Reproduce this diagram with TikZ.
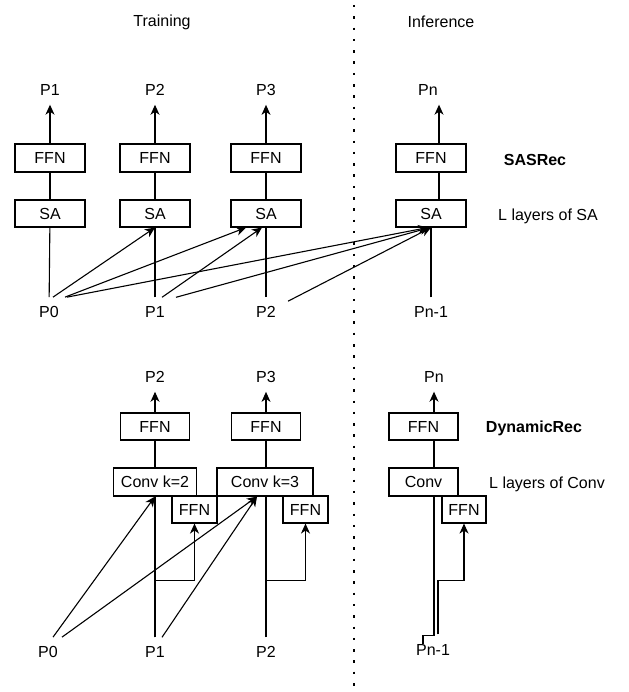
\documentclass[tikz,border=0pt]{standalone}
\usepackage{fontspec}
\setmainfont{Liberation Sans}
\usepackage{tikz}
\usetikzlibrary{arrows.meta}
\tikzset{
  rec-block/.style={draw=black, fill=white, line width=1.1pt, inner sep=0pt,
    minimum width=70pt, minimum height=28pt, font=\fontsize{16pt}{19pt}\selectfont},
  rec-small/.style={rec-block, minimum width=45pt, minimum height=27pt},
  rec-label/.style={inner xsep=1pt, inner ysep=9pt, font=\fontsize{16pt}{19pt}\selectfont},
  rec-note/.style={inner sep=0pt, font=\fontsize{16pt}{19pt}\selectfont},
  rec-arrow/.style={-{Stealth[length=10pt,width=9pt,inset=3pt]}, line width=1.1pt},
  rec-line/.style={line width=1.1pt}
}

\begin{document}
\begin{tikzpicture}[x=1pt, y=-1pt]
  \useasboundingbox (0,0) rectangle (628,692);

  % Headings and split
  \node[rec-note] (train) at (162,22) {Training};
  \node[rec-note] (infer) at (441,22) {Inference};
  \draw[line width=2.5pt, dash pattern=on 2.5pt off 8.8pt] (354,5) -- (354,692);

  % SASRec (top)
  \node[rec-label] (out1) at (50,90) {P1};
  \node[rec-label] (out2) at (155,90) {P2};
  \node[rec-label] (out3) at (266,90) {P3};
  \node[rec-label] (outN) at (428,90) {Pn};

  \node[rec-block] (ffn1) at (50,158) {FFN};
  \node[rec-block] (ffn2) at (155,158) {FFN};
  \node[rec-block] (ffn3) at (266,158) {FFN};
  \node[rec-block] (ffnN) at (431,158) {FFN};

  \node[rec-block, minimum height=27pt] (sa1) at (50,213.5) {SA};
  \node[rec-block, minimum height=27pt] (sa2) at (155,213.5) {SA};
  \node[rec-block, minimum height=27pt] (sa3) at (266,213.5) {SA};
  \node[rec-block, minimum height=27pt] (saN) at (431,213.5) {SA};

  \node[rec-label] (in0) at (49,312) {P0};
  \node[rec-label] (in1) at (155,312) {P1};
  \node[rec-label] (in2) at (266,312) {P2};
  \node[rec-label] (inN) at (431,312) {Pn-1};

  \node[rec-note, font=\fontsize{16pt}{19pt}\selectfont\bfseries] (sasname) at (535,160) {SASRec};
  \node[rec-note] (sasdepth) at (548,216) {L layers of SA};

  \draw[rec-arrow] (ffn1) -- (out1);
  \draw[rec-arrow] (ffn2) -- (out2);
  \draw[rec-arrow] (ffn3) -- (out3);
  \draw[rec-arrow] ([xshift=8pt]ffnN.north) -- ([xshift=11pt]outN.south);
  \draw[rec-line] (sa1) -- (ffn1);
  \draw[rec-line] (sa2) -- (ffn2);
  \draw[rec-line] (sa3) -- (ffn3);
  \draw[rec-line] ([xshift=8pt]saN.north) -- ([xshift=8pt]ffnN.south);
  \draw[rec-line] (in0) -- (sa1);
  \draw[rec-line] (in1) -- (sa2);
  \draw[rec-line] (in2) -- (sa3);
  \draw[rec-line] (inN) -- (saN);

  % causal attention inputs
  \draw[rec-arrow] ([xshift=4pt]in0.north) -- (sa2.south);
  \draw[rec-arrow] ([xshift=16pt]in0.north) -- ([xshift=-20pt]sa3.south);
  \draw[rec-arrow] ([xshift=18pt]in0.north) -- ([xshift=-3pt]saN.south);
  \draw[rec-arrow] ([xshift=7pt]in1.north) -- ([xshift=-4pt]sa3.south);
  \draw[rec-arrow] ([xshift=21pt]in1.north) -- ([xshift=-1pt]saN.south);
  \draw[rec-arrow] ([xshift=22pt,yshift=-4pt]in2.north) -- (saN.south);

  % DynamicRec (bottom)
  \node[rec-label] (dout2) at (155,377) {P2};
  \node[rec-label] (dout3) at (266,377) {P3};
  \node[rec-label] (doutN) at (434,377) {Pn};

  \node[rec-block, minimum width=69pt, minimum height=27pt] (dffn2) at (155,426.5) {FFN};
  \node[rec-block, minimum width=69pt, minimum height=27pt] (dffn3) at (266,426.5) {FFN};
  \node[rec-block, minimum width=69pt, minimum height=27pt] (dffnN) at (423.5,426.5) {FFN};

  \node[rec-block, minimum width=83pt] (conv2) at (155,482) {Conv k=2};
  \node[rec-block, minimum width=96pt] (conv3) at (265,482) {Conv k=3};
  \node[rec-block, minimum width=69pt] (convN) at (423.5,482) {Conv};

  \node[rec-small] (mix2) at (194.5,509.5) {FFN};
  \node[rec-small] (mix3) at (305.5,509.5) {FFN};
  \node[rec-small, minimum width=44pt] (mixN) at (464,509.5) {FFN};

  \node[rec-label] (din0) at (48,652) {P0};
  \node[rec-label] (din1) at (155,652) {P1};
  \node[rec-label] (din2) at (266,652) {P2};
  \node[rec-note] (dinN) at (433,650) {Pn-1};

  \node[rec-note, font=\fontsize{16pt}{19pt}\selectfont\bfseries] (dynname) at (534,428) {DynamicRec};
  \node[rec-note] (dyndepth) at (547,484) {L layers of Conv};

  \draw[rec-arrow] (dffn2) -- (dout2);
  \draw[rec-arrow] (dffn3) -- (dout3);
  \draw[rec-arrow] (dffnN.north -| doutN) -- (doutN);
  \draw[rec-line] (conv2) -- (dffn2);
  \draw[rec-line] (conv3.north -| dffn3) -- (dffn3);
  \draw[rec-line] (convN.north -| doutN) -- (dffnN.south -| doutN);

  % per-position convolution inputs
  \draw[rec-line] (din1) -- (conv2);
  \draw[rec-line] (din2.north) -- (din2.north |- conv3.south);
  \draw[rec-arrow] (din1.north) -- ++(0,-57) -| (mix2.south);
  \draw[rec-arrow] (din2.north) -- ++(0,-57) -| (mix3.south);
  \draw[rec-arrow] ([xshift=5pt]din0.north) -- (conv2.south);
  \draw[rec-arrow] ([xshift=14pt]din0.north) -- ([xshift=-8pt]conv3.south);
  \draw[rec-arrow] ([xshift=7pt]din1.north) -- ([xshift=-8pt]conv3.south);

  % inference step
  \draw[rec-line] ([xshift=-10pt]dinN.north) -- ++(0,-9) -| (convN.south -| doutN);
  \draw[rec-arrow] ([xshift=5pt,yshift=10pt]dinN.north) -- ++(0,-54) -| (mixN.south);
\end{tikzpicture}
\end{document}
